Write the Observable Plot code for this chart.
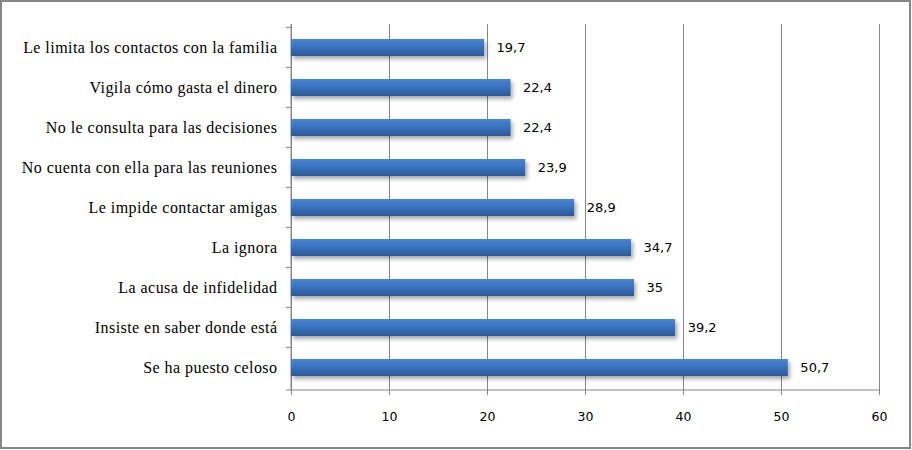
<!DOCTYPE html>
<html>
<head>
<meta charset="utf-8">
<script src="https://cdn.jsdelivr.net/npm/d3@7"></script>
<script src="https://cdn.jsdelivr.net/npm/@observablehq/plot@0.6"></script>
<style>
  html, body { margin: 0; padding: 0; background: white; }
  #chart { width: 912px; height: 450px; }
  g[aria-label="y-axis tick label"] text { letter-spacing: 0.45px; }
</style>
</head>
<body>
<div id="chart"></div>
<script>
const categories = [
  "Le limita los contactos con la familia",
  "Vigila cómo gasta el dinero",
  "No le consulta para las decisiones",
  "No cuenta con ella para las reuniones",
  "Le impide contactar amigas",
  "La ignora",
  "La acusa de infidelidad",
  "Insiste en saber donde está",
  "Se ha puesto celoso"
];
const values = [19.7, 22.4, 22.4, 23.9, 28.9, 34.7, 35, 39.2, 50.7];
const xTicks = [0, 10, 20, 30, 40, 50, 60];

const data = categories.map((c, i) => ({label: c, value: values[i]}));
const fmt = v => String(v).replace(".", ",");

// axis lines and category-boundary ticks on the y axis
function axisLines(index, scales, vals, dims) {
  const g = d3.create("svg:g");
  const y = scales.y, x = scales.x;
  const step = y.step();
  const pad = step * y.paddingInner() / 2;
  const top = dims.marginTop, bottom = dims.height - dims.marginBottom;
  const left = dims.marginLeft, right = dims.width - dims.marginRight;
  const bounds = categories.map(c => y(c) - pad).concat([bottom]);
  g.append("line").attr("x1", left).attr("x2", left).attr("y1", top).attr("y2", bottom)
    .attr("stroke", "#868686");
  g.append("line").attr("x1", x(0)).attr("x2", right).attr("y1", bottom).attr("y2", bottom)
    .attr("stroke", "#868686");
  for (const b of bounds) {
    g.append("line").attr("x1", left - 5).attr("x2", left).attr("y1", b).attr("y2", b)
      .attr("stroke", "#868686");
  }
  return g.node();
}

const chart = Plot.plot({
  width: 912,
  height: 450,
  marginLeft: 291,
  marginRight: 33,
  marginTop: 24,
  marginBottom: 60,
  style: {background: "white", fontFamily: "'Liberation Serif', serif", color: "black"},
  x: {domain: [0, 60], label: null},
  y: {domain: categories, paddingInner: 0.58, paddingOuter: 0.29, label: null},
  marks: [
    Plot.gridX(xTicks, {stroke: "#868686", strokeOpacity: 1}),
    Plot.axisX(xTicks, {tickSize: 5, tickPadding: 17, stroke: "#868686", fill: "black",
      fontFamily: "'DejaVu Sans', sans-serif", fontSize: 12.5}),
    Plot.axisY({tickSize: 0, tickPadding: 14, fontSize: 16, fill: "black",
      fontFamily: "'Liberation Serif', serif"}),
    axisLines,
    Plot.barX(data, {x: "value", y: "label", fill: "url(#barGrad)"}),
    Plot.text(data, {x: "value", y: "label", text: d => fmt(d.value), dx: 12, textAnchor: "start",
      fill: "black", fontSize: 13, fontFamily: "'DejaVu Sans', sans-serif"})
  ]
});

// gradient, shadow and border
const svg = d3.select(chart);
const defs = svg.insert("defs", ":first-child");
const grad = defs.append("linearGradient").attr("id", "barGrad")
  .attr("x1", 0).attr("y1", 0).attr("x2", 0).attr("y2", 1);
grad.append("stop").attr("offset", "0%").attr("stop-color", "#4a84d2");
grad.append("stop").attr("offset", "45%").attr("stop-color", "#3a74c0");
grad.append("stop").attr("offset", "100%").attr("stop-color", "#2b5a98");
const f = defs.append("filter").attr("id", "barShadow")
  .attr("x", "-5%").attr("y", "-30%").attr("width", "115%").attr("height", "190%");
f.append("feDropShadow").attr("dx", 2).attr("dy", 3).attr("stdDeviation", 2)
  .attr("flood-color", "#000").attr("flood-opacity", 0.35);
svg.selectAll("g[aria-label='bar'] rect").attr("filter", "url(#barShadow)");
svg.selectAll("g[aria-label='y-axis tick label'] text").attr("letter-spacing", "0.45px");
svg.append("rect").attr("x", 1).attr("y", 1).attr("width", 909).attr("height", 447)
  .attr("fill", "none").attr("stroke", "#868686").attr("stroke-width", 2);

document.getElementById("chart").appendChild(chart);
</script>
</body>
</html>
